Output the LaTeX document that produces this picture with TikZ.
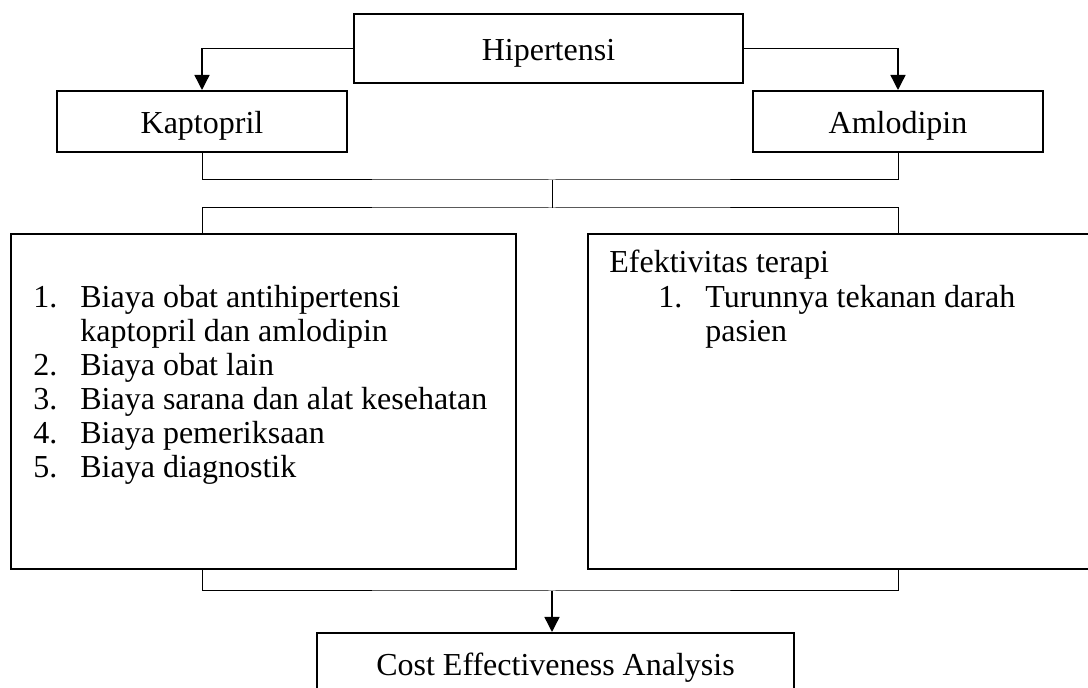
\documentclass[tikz,border=0pt]{standalone}
\usepackage{fontspec}
\setmainfont{Liberation Serif}
\usetikzlibrary{arrows.meta}

\tikzset{
  kotak/.style={draw, line width=1pt, rectangle, inner sep=0pt, anchor=north west,
    text height=12.5pt, text depth=0pt},
  garis/.style={line width=0.5pt},
  panah/.style={line width=0.7pt, -{Triangle[width=7.5pt,length=7.5pt]}},
  daftar/.style={anchor=base west, inner sep=0pt}
}

\begin{document}
\begin{tikzpicture}[x=0.5pt, y=-0.5pt, font=\fontsize{16}{17}\selectfont]
\useasboundingbox (0,0) rectangle (1088,688);
\clip (0,0) rectangle (1088,688);

% kotak
\node[kotak, minimum width=194.5pt, minimum height=34.5pt] (hip) at (353,13) {Hipertensi};
\node[kotak, minimum width=145pt, minimum height=30.5pt] (kap) at (56,90) {Kaptopril};
\node[kotak, minimum width=145pt, minimum height=30.5pt] (aml) at (752,90) {Amlodipin};
\node[kotak, minimum width=252.5pt, minimum height=167.5pt] (biaya) at (10,233) {};
\node[kotak, minimum width=261.5pt, minimum height=167.5pt] (efek) at (587,233) {};
\node[kotak, minimum width=238.5pt, minimum height=30.5pt] (cea) at (316,632) {Cost Effectiveness Analysis};

% isi
\node[daftar] (isibiaya) at (33,308) {\begin{tabular}[t]{@{}p{23.5pt}@{}l@{}}
1. & Biaya obat antihipertensi\\
   & kaptopril dan amlodipin\\
2. & Biaya obat lain\\
3. & Biaya sarana dan alat kesehatan\\
4. & Biaya pemeriksaan\\
5. & Biaya diagnostik
\end{tabular}};
\node[daftar] (judulefek) at (609,273) {Efektivitas terapi};
\node[daftar] (isiefek) at (658,308) {\begin{tabular}[t]{@{}p{23.5pt}@{}l@{}}
1. & Turunnya tekanan darah\\
   & pasien
\end{tabular}};

\coordinate (sambung1) at (552,180);
\coordinate (sambung2) at (552,208);
\coordinate (sambung3) at (552,591);

% garis
\draw[panah] (hip.west) -| (kap.north);
\draw[panah] (hip.east) -| (aml.north);
\draw[garis] (kap.south) |- (sambung1) -| (aml.south);
\draw[garis] (sambung1) -- (sambung2);
\draw[garis] (kap.south |- biaya.north) |- (sambung2) -| (aml.south |- efek.north);
\draw[garis] (kap.south |- biaya.south) |- (sambung3) -| (aml.south |- efek.south);
\draw[panah] (sambung3) -- (sambung3 |- cea.north);
\end{tikzpicture}
\end{document}
